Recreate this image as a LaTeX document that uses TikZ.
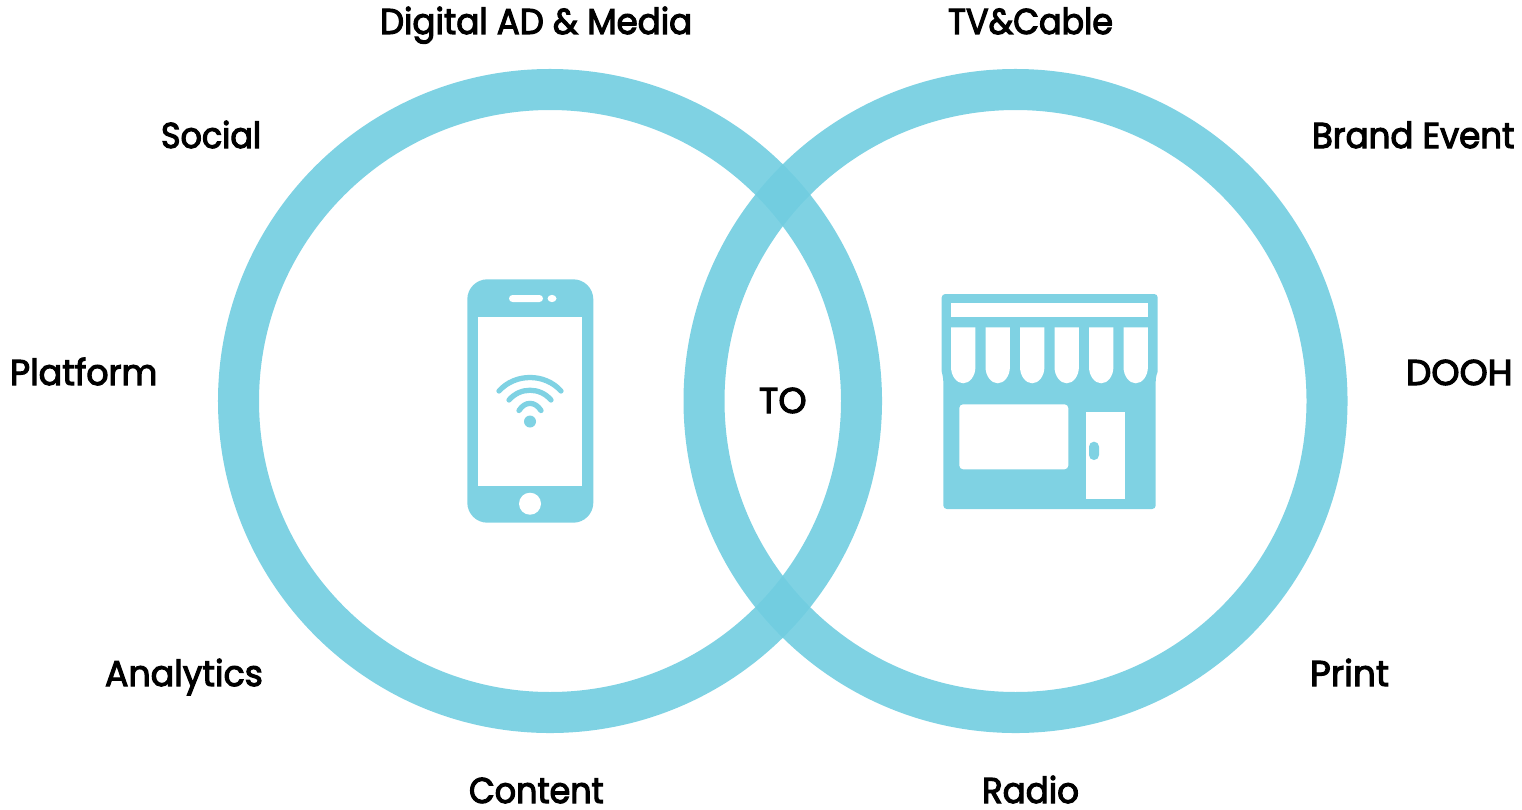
\documentclass[tikz,border=0pt]{standalone}
\usepackage{fontspec}
\setmainfont{Poppins}[FakeBold=3,FakeStretch=0.95]
\newfontfamily\capsfont{Poppins}[FakeBold=3]
\newfontfamily\tightfont{Poppins}[FakeBold=3,FakeStretch=0.93]
\newfontfamily\loosefont{Poppins}[FakeBold=3,FakeStretch=0.97]
\definecolor{ringc}{RGB}{113,205,224}
\definecolor{iconc}{RGB}{127,210,227}
\tikzset{
  ring/.style={draw=ringc,line width=41*0.2845pt,draw opacity=0.9,fill=none},
  iconfill/.style={fill=iconc,draw=none},
  hole/.style={fill=white,draw=none},
  wave/.style={draw=iconc,line width=1.5pt,line cap=round},
  lab/.style={inner sep=0pt,outer sep=0pt,anchor=base west,text=black,font=\fontsize{10.2}{12}\selectfont},
  capslab/.style={lab,font=\fontsize{10.2}{12}\capsfont},
  tightlab/.style={lab,font=\fontsize{10.2}{12}\tightfont},
  looselab/.style={lab,font=\fontsize{10.2}{12}\loosefont}
}
\begin{document}
\begin{tikzpicture}[x=0.01cm,y=-0.01cm]
\useasboundingbox (0,0) rectangle (1522,809);
% rings
\draw[ring] (550,401) circle[radius=311.5];
\draw[ring] (1015.5,401) circle[radius=311.5];
% phone
\fill[iconfill,rounded corners=5.7pt] (467.3,279.3) rectangle (593.3,522.7);
\fill[hole] (478.3,317) rectangle (582,486);
\fill[hole,rounded corners=1pt] (509,295) rectangle (543,302);
\fill[hole] (552,298.5) ellipse[x radius=4.5,y radius=3.6];
\fill[hole] (530,503.7) circle[radius=11];
\fill[iconfill] (530,421.5) circle[radius=6];
\draw[wave] (499,391) .. controls (515,373) and (545,373) .. (561,391);
\draw[wave] (509,400) .. controls (520,387) and (540,387) .. (551,400);
\draw[wave] (519,410.5) .. controls (525,401) and (535,401) .. (541,410.5);
% store
\fill[iconfill,rounded corners=1pt] (941.7,294) -- (1157.7,294) -- (1157.7,368) .. controls (1157.7,372) and (1156.5,375) .. (1155.7,378) -- (1155.7,509) -- (943.3,509) -- (943.3,378) .. controls (942.5,375) and (941.7,372) .. (941.7,368) -- cycle;
\fill[hole] (951,303.3) rectangle (1148,317.3);
\foreach \sx in {951,985.5,1020,1054.5,1089,1123.5}{
  \pgfmathsetmacro{\sm}{\sx+12.2}
  \pgfmathsetmacro{\sr}{\sx+24.4}
  \fill[hole] (\sx,327.3) -- (\sr,327.3) -- (\sr,367) .. controls (\sr,376) and (\sm+6.5,383.3) .. (\sm,383.3) .. controls (\sm-6.5,383.3) and (\sx,376) .. (\sx,367) -- cycle;
}
\fill[hole,rounded corners=1.1pt] (959.3,404.3) rectangle (1068.3,469.3);
\fill[hole] (1086.3,412.3) rectangle (1125.3,499);
\fill[iconfill,rounded corners=1.4pt] (1089,441.7) rectangle (1099,460);
% labels
\node[lab] (digital) at (380,34) {Digital AD \& Media};
\node[tightlab] (tv) at (948,34) {TV\&Cable};
\node[tightlab] (social) at (161,148) {Social};
\node[lab] (brand) at (1312,148) {Brand Event};
\node[looselab] (platform) at (10,385) {Platform};
\node[capslab] (dooh) at (1406,385) {DOOH};
\node[capslab] (to) at (759,413) {TO};
\node[looselab] (analytics) at (105,686) {Analytics};
\node[capslab] (print) at (1310,686) {Print};
\node[tightlab] (content) at (469,803) {Content};
\node[lab] (radio) at (982,803) {Radio};
\end{tikzpicture}
\end{document}
